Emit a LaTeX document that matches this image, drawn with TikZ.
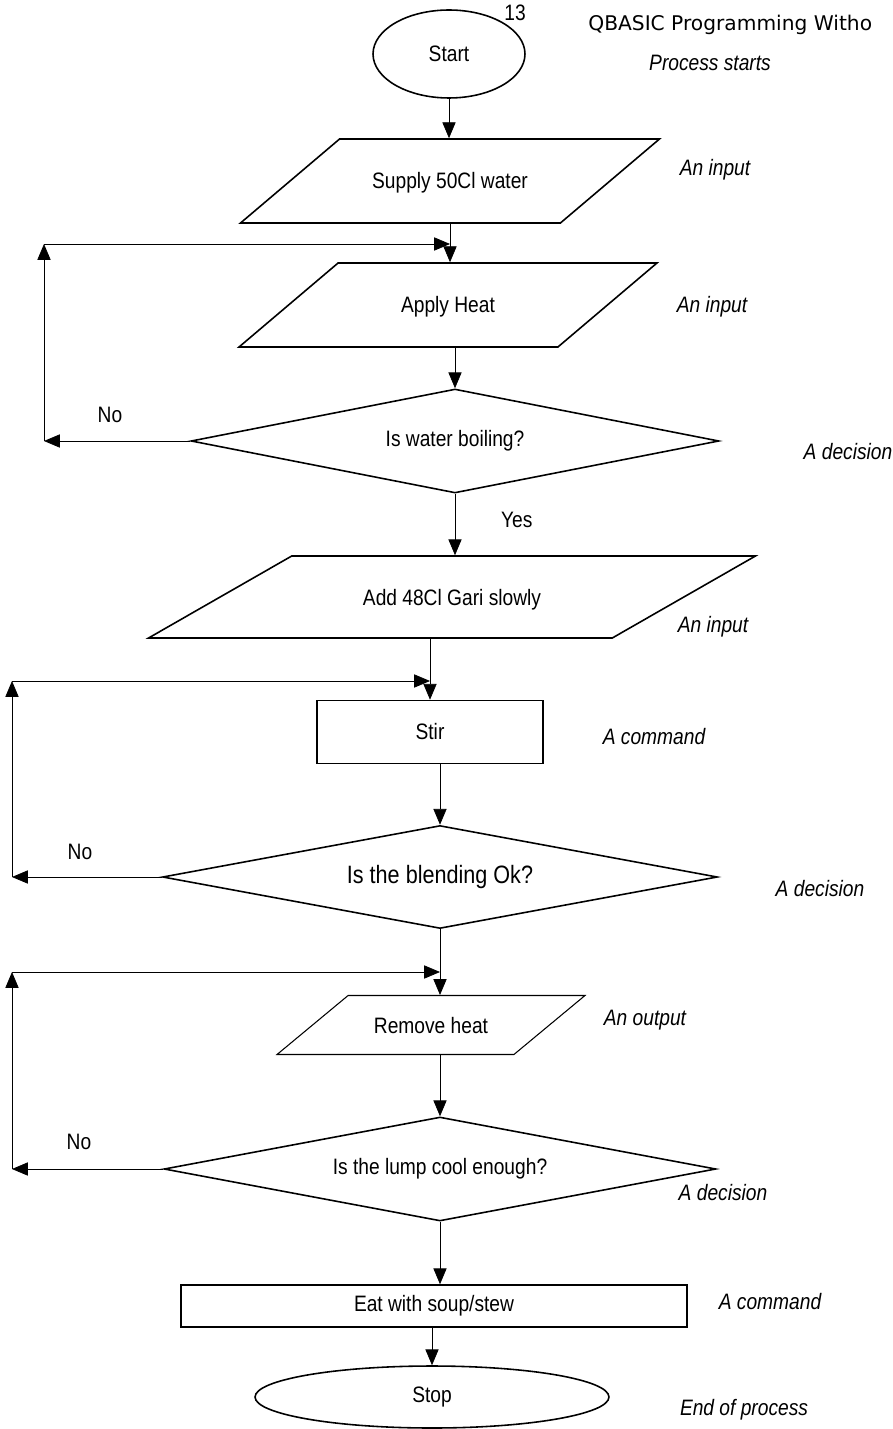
\documentclass[tikz,border=0pt]{standalone}
\usepackage{fontspec}
\setmainfont{Liberation Sans}[FakeStretch=0.86]
\newfontfamily\headfont{DejaVu Sans}
\usetikzlibrary{shapes.geometric, arrows.meta}
\tikzset{
    ->, % every connector is directed
    >={Triangle[length=9pt, width=7.5pt]}, % filled heads like the book
    line width=1pt,
    every node/.style={inner sep=0pt, font=\fontsize{12.7}{14}\selectfont},
    terminal/.style={ellipse, draw, line width=0.9pt}, % start and stop
    io/.style={trapezium, draw, trapezium stretches body, line width=0.9pt}, % inputs and outputs, height comes from the text box
    decision/.style={diamond, draw, line width=0.9pt},
    process/.style={rectangle, draw, line width=0.9pt},
    note/.style={font=\itshape\fontsize{12.7}{14}\selectfont}, % the remarks on the right
}

\begin{document}
\begin{tikzpicture}[x=0.02cm, y=-0.02cm]
    \useasboundingbox (0,0) rectangle (892,1429);

    % flow
    \node[terminal, minimum width=3.04cm, minimum height=1.76cm] (start) at (449,54) {Start};
    \node[io, trapezium left angle=40.3, trapezium right angle=139.7,
          text height=1.0cm, text depth=0.68cm, minimum width=8.38cm] (supply) at (450,181) {Supply 50Cl water};
    \node[io, trapezium left angle=40.3, trapezium right angle=139.7,
          text height=1.0cm, text depth=0.68cm, minimum width=8.36cm] (heat) at (448,305) {Apply Heat};
    \node[decision, aspect=5.08, minimum width=10.56cm, minimum height=2.08cm] (boil) at (455,441) {Is water boiling?};
    \node[io, trapezium left angle=29.8, trapezium right angle=150.2,
          text height=0.98cm, text depth=0.66cm, minimum width=12.14cm] (gari) at (452,597) {Add 48Cl Gari slowly};
    \node[process, minimum width=4.52cm, minimum height=1.26cm] (stir) at (430,732) {Stir};
    \node[decision, aspect=5.39, minimum width=11.1cm, minimum height=2.06cm,
          font=\fontsize{14.3}{16}\selectfont] (blend) at (440,877) {Is the blending Ok?};
    \node[io, line width=0.6pt, trapezium left angle=39.7, trapezium right angle=140.3,
          text height=0.75cm, text depth=0.43cm, minimum width=6.16cm] (remove) at (431,1025) {Remove heat};
    \node[decision, aspect=5.31, minimum width=11.04cm, minimum height=2.08cm] (cool) at (440,1169) {Is the lump cool enough?};
    \node[process, minimum width=10.12cm, minimum height=0.84cm] (eat) at (434,1306) {Eat with soup/stew};
    \node[terminal, minimum width=7.08cm, minimum height=1.24cm] (stop) at (432,1397) {Stop};

    % loop corners
    \coordinate (boilno) at (44,441);
    \coordinate (boilup) at (44,244);
    \coordinate (blendno) at (12,877);
    \coordinate (blendup) at (12,681);
    \coordinate (coolno) at (12,1169);
    \coordinate (coolup) at (12,972);

    \draw (start.south) -- (start.south |- supply.north);
    \draw (supply.south) -- (supply.south |- heat.north);
    \draw (boil.north |- heat.south) -- (boil.north);
    \draw (boil.south) -- node[pos=0.42, right=26pt] {Yes} (boil.south |- gari.north);
    \draw (stir.north |- gari.south) -- (stir.north);
    \draw (blend.north |- stir.south) -- (blend.north);
    \draw (blend.south) -- (blend.south |- remove.north);
    \draw (cool.north |- remove.south) -- (cool.north);
    \draw (cool.south) -- (cool.south |- eat.north);
    \draw (stop.north |- eat.south) -- (stop.north);

    \draw (boil.west) -- (boilno);
    \draw (boilno) -- (boilup);
    \draw (boilup) -- (boilup -| supply.south);
    \draw (blend.west) -- (blendno);
    \draw (blendno) -- (blendup);
    \draw (blendup) -- (blendup -| stir.north);
    \draw (cool.west) -- (coolno);
    \draw (coolno) -- (coolup);
    \draw (coolup) -- (coolup -| blend.south);

    \node (no1) at (110,415) {No};
    \node (no2) at (80,852) {No};
    \node (no3) at (79,1142) {No};

    % remarks
    \node (page) at (515,13) {13};
    \node[anchor=west, font=\headfont\fontsize{11.5}{13}\selectfont] (head) at (588,25) {QBASIC Programming Witho};
    \node[note] (n1) at (710,63) {Process starts};
    \node[note] (n2) at (715,170) {An input};
    \node[note] (n3) at (712,307) {An input};
    \node[note] (n4) at (848,452) {A decision};
    \node[note] (n5) at (713,627) {An input};
    \node[note] (n6) at (654,737) {A command};
    \node[note] (n7) at (820,889) {A decision};
    \node[note] (n8) at (645,1020) {An output};
    \node[note] (n9) at (723,1193) {A decision};
    \node[note] (n10) at (770,1302) {A command};
    \node[note] (n11) at (744,1410) {End of process};
\end{tikzpicture}
\end{document}
